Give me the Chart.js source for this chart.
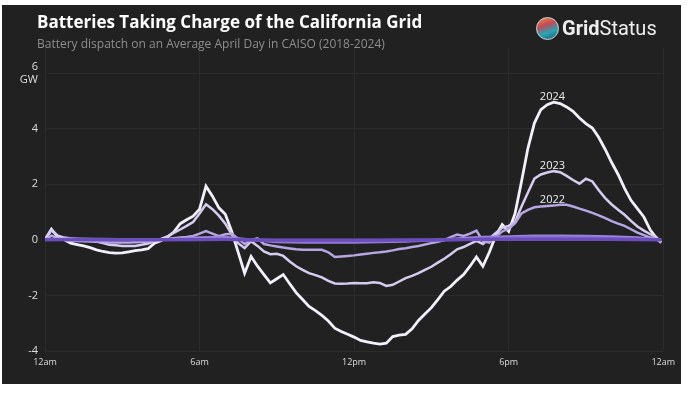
<!DOCTYPE html>
<html>
<head>
<meta charset="utf-8">
<script src="https://cdn.jsdelivr.net/npm/chart.js@4.4.1/dist/chart.umd.min.js"></script>
<style>
  html, body { margin: 0; padding: 0; background: #ffffff; }
  #panel {
    position: absolute; left: 2px; top: 5px; width: 679px; height: 379px;
    background: #212121; overflow: hidden;
  }
  #chartBox { position: absolute; left: 0; top: 0; width: 679px; height: 379px; }
  .title {
    position: absolute; left: 35px; top: 5px; margin: 0;
    font: 700 17px "Open Sans", sans-serif; color: #ffffff; white-space: nowrap;
  }
  .subtitle {
    position: absolute; left: 35px; top: 30px; margin: 0;
    font: 400 12px "Open Sans", sans-serif; color: #8e8e8e; white-space: nowrap;
  }
  .logo {
    position: absolute; left: 534px; top: 10px; height: 26px;
    display: flex; align-items: center; color: #eeeeee;
    font: 20px "Roboto", sans-serif; white-space: nowrap;
  }
  .logo .icon {
    width: 21px; height: 21px; border-radius: 50%; margin-right: 3px;
    background: linear-gradient(160deg, #f08a3c 0%, #c04a5a 35%, #2aa4b4 65%, #1d5e7a 100%);
    border: 1px solid #cfd8dc;
  }
  .logo b { font-weight: 700; }
</style>
</head>
<body>
<div id="panel">
  <div id="chartBox"><canvas id="chart"></canvas></div>
  <div class="title">Batteries Taking Charge of the California Grid</div>
  <div class="subtitle">Battery dispatch on an Average April Day in CAISO (2018-2024)</div>
  <div class="logo"><span class="icon"></span><b>Grid</b>Status</div>
</div>
<script>
// hour of day for the detailed series (2022-2024)
const hours = [
  0, 0.25, 0.5, 0.75, 1, 1.25, 1.5, 1.75, 2, 2.25, 2.5, 2.75,
  3, 3.25, 3.5, 3.75, 4, 4.25, 4.5, 4.75, 5, 5.25, 5.5, 5.75,
  6, 6.25, 6.5, 6.75, 7, 7.25, 7.5, 7.75, 8, 8.25, 8.5, 8.75,
  9, 9.25, 9.5, 9.75, 10, 10.25, 10.5, 10.75, 11, 11.25, 11.5, 11.75,
  12, 12.25, 12.5, 12.75, 13, 13.25, 13.5, 13.75, 14, 14.25, 14.5, 14.75,
  15, 15.25, 15.5, 15.75, 16, 16.25, 16.5, 16.75, 17, 17.25, 17.5, 17.75,
  18, 18.25, 18.5, 18.75, 19, 19.25, 19.5, 19.75, 20, 20.25, 20.5, 20.75,
  21, 21.25, 21.5, 21.75, 22, 22.25, 22.5, 22.75, 23, 23.25, 23.5, 23.75, 23.92
];

// GW, average April day
const gw2024 = [
  0, 0.38, 0.1, 0, -0.12, -0.17, -0.22, -0.28, -0.36, -0.42, -0.46, -0.48,
  -0.47, -0.43, -0.39, -0.36, -0.32, -0.12, -0.03, 0.1, 0.28, 0.58, 0.72, 0.85,
  1.1, 1.93, 1.57, 1.15, 0.92, 0.3, -0.45, -1.2, -0.6, -0.95, -1.25, -1.55,
  -1.4, -1.25, -1.58, -1.9, -2.15, -2.4, -2.55, -2.72, -2.92, -3.18, -3.3, -3.4,
  -3.5, -3.62, -3.67, -3.72, -3.75, -3.72, -3.48, -3.43, -3.4, -3.2, -2.9, -2.67,
  -2.44, -2.15, -1.85, -1.68, -1.45, -1.25, -0.95, -0.62, -0.95, -0.45, 0.15, 0.55,
  0.3, 0.95, 2.1, 3.3, 4.2, 4.68, 4.86, 4.95, 4.9, 4.78, 4.62, 4.38,
  4.18, 4.02, 3.68, 3.25, 2.78, 2.35, 1.85, 1.42, 1.12, 0.82, 0.35, 0.05, -0.1
];
const gw2023 = [
  0, 0.35, 0.15, 0.08, 0.05, 0.02, 0, -0.03, -0.06, -0.12, -0.18, -0.2,
  -0.22, -0.22, -0.22, -0.18, -0.13, -0.05, 0.03, 0.12, 0.25, 0.37, 0.5, 0.64,
  0.95, 1.28, 1.1, 0.87, 0.58, 0.2, -0.12, -0.3, -0.05, -0.22, -0.42, -0.52,
  -0.5, -0.58, -0.78, -0.95, -1.08, -1.2, -1.27, -1.35, -1.48, -1.57, -1.58, -1.57,
  -1.55, -1.56, -1.56, -1.53, -1.55, -1.66, -1.62, -1.5, -1.38, -1.3, -1.2, -1.08,
  -0.97, -0.82, -0.68, -0.52, -0.34, -0.26, -0.15, -0.04, -0.15, 0.05, 0.25, 0.43,
  0.5, 0.65, 1.2, 1.7, 2.2, 2.35, 2.42, 2.47, 2.43, 2.3, 2.15, 2.02,
  2.2, 2.1, 1.78, 1.5, 1.27, 1.08, 0.9, 0.68, 0.48, 0.33, 0.2, 0.08, -0.1
];
const gw2022 = [
  0, 0.15, 0.05, 0, -0.03, -0.04, -0.05, -0.06, -0.07, -0.08, -0.1, -0.1,
  -0.1, -0.1, -0.09, -0.08, -0.06, -0.03, 0, 0.03, 0.06, 0.08, 0.1, 0.14,
  0.22, 0.31, 0.22, 0.13, 0.2, 0.22, 0.04, -0.15, 0, 0.05, -0.15, -0.2,
  -0.24, -0.28, -0.31, -0.34, -0.36, -0.36, -0.36, -0.36, -0.45, -0.62, -0.6, -0.58,
  -0.56, -0.53, -0.5, -0.47, -0.45, -0.42, -0.38, -0.33, -0.3, -0.26, -0.22, -0.17,
  -0.12, -0.07, -0.01, 0.1, 0.19, 0.14, 0.22, 0.33, -0.05, -0.1, 0.12, 0.3,
  0.4, 0.6, 0.95, 1.08, 1.17, 1.2, 1.22, 1.23, 1.26, 1.26, 1.2, 1.12,
  1.05, 0.97, 0.88, 0.78, 0.67, 0.58, 0.5, 0.38, 0.26, 0.17, 0.08, 0.02, -0.1
];

// hourly values for the small early years
const hoursHourly = [0, 1, 2, 3, 4, 5, 6, 7, 8, 9, 10, 11, 12, 13, 14, 15, 16, 17, 18, 19, 20, 21, 22, 23, 23.92];
const gw2021 = [0, 0.05, 0.03, 0.02, 0.02, 0.03, 0.08, 0.1, 0, -0.08, -0.1, -0.1, -0.1, -0.08, -0.06, -0.02, 0.05, 0.1, 0.12, 0.15, 0.15, 0.14, 0.12, 0.08, 0];
const gw2020 = [0, 0.02, 0.01, 0, 0, 0, 0.02, 0.03, -0.02, -0.04, -0.05, -0.05, -0.05, -0.04, -0.03, -0.02, 0, 0.05, 0.07, 0.08, 0.08, 0.07, 0.06, 0.04, 0];
const gw2019 = [0, 0.01, 0, 0, 0, 0, 0.01, 0.01, -0.01, -0.02, -0.02, -0.02, -0.02, -0.02, -0.01, -0.01, 0, 0.02, 0.03, 0.03, 0.03, 0.03, 0.02, 0.01, 0];
const gw2018 = [0, 0, 0, 0, 0, 0, 0, 0.01, 0, -0.01, -0.01, -0.01, -0.01, -0.01, -0.01, 0, 0, 0.01, 0.01, 0.01, 0.01, 0.01, 0.01, 0, 0];

const xTicks = [0, 6, 12, 18, 24];
const xTickLabels = ['12am', '6am', '12pm', '6pm', '12am'];
const yTicks = [-4, -2, 0, 2, 4, 6];

const labeledYears = ['2024', '2023', '2022'];
const labelHour = 19.7;

function points(xs, ys) {
  return ys.map((y, i) => ({ x: xs[i], y: y }));
}

const series = [
  { label: '2018', x: hoursHourly, y: gw2018, color: '#6a4cbc', width: 3 },
  { label: '2019', x: hoursHourly, y: gw2019, color: '#7656c4', width: 3 },
  { label: '2020', x: hoursHourly, y: gw2020, color: '#8466cc', width: 2.5 },
  { label: '2021', x: hoursHourly, y: gw2021, color: '#9a82d8', width: 2.5 },
  { label: '2022', x: hours, y: gw2022, color: '#b6a6e2', width: 2.5 },
  { label: '2023', x: hours, y: gw2023, color: '#d6ccf0', width: 2.5 },
  { label: '2024', x: hours, y: gw2024, color: '#f2f0fa', width: 2.8 }
];

const yearLabels = {
  id: 'yearLabels',
  afterDatasetsDraw(chart) {
    const ctx = chart.ctx;
    const xs = chart.scales.x;
    const ys = chart.scales.y;
    ctx.save();
    ctx.font = '11px "Open Sans", sans-serif';
    ctx.fillStyle = '#f0f0f0';
    ctx.textAlign = 'center';
    ctx.textBaseline = 'middle';
    chart.data.datasets.forEach(ds => {
      if (!labeledYears.includes(ds.label)) return;
      const peak = Math.max(...ds.data.map(p => p.y));
      ctx.fillText(ds.label, xs.getPixelForValue(labelHour), ys.getPixelForValue(peak) - 5);
    });
    ctx.restore();
  }
};

new Chart(document.getElementById('chart'), {
  type: 'line',
  data: {
    datasets: series.map(s => ({
      label: s.label,
      data: points(s.x, s.y),
      borderColor: s.color,
      borderWidth: s.width,
      pointRadius: 0,
      tension: 0,
      fill: false
    }))
  },
  options: {
    responsive: true,
    maintainAspectRatio: false,
    animation: false,
    layout: { padding: { left: 0, top: 43, right: 16, bottom: 0 } },
    plugins: {
      legend: { display: false },
      tooltip: { enabled: false }
    },
    scales: {
      x: {
        type: 'linear',
        min: 0,
        max: 24,
        afterBuildTicks: scale => { scale.ticks = xTicks.map(v => ({ value: v })); },
        afterFit: scale => { scale.height = 33; },
        border: { display: false },
        grid: { color: '#2c2c2c', drawTicks: false },
        ticks: {
          color: '#dddddd',
          padding: 6,
          maxRotation: 0,
          font: { family: 'Open Sans', size: 9 },
          callback: v => xTickLabels[xTicks.indexOf(v)]
        }
      },
      y: {
        min: -4,
        max: 6.9,
        afterBuildTicks: scale => { scale.ticks = yTicks.map(v => ({ value: v })); },
        afterFit: scale => { scale.width = 43; },
        border: { display: false },
        grid: { color: '#2c2c2c', drawTicks: false },
        ticks: {
          color: '#dddddd',
          padding: 7,
          font: { family: 'Open Sans', size: 11 },
          callback: v => (v === 6 ? ['6', 'GW'] : String(v))
        }
      }
    }
  },
  plugins: [yearLabels]
});
</script>
</body>
</html>
